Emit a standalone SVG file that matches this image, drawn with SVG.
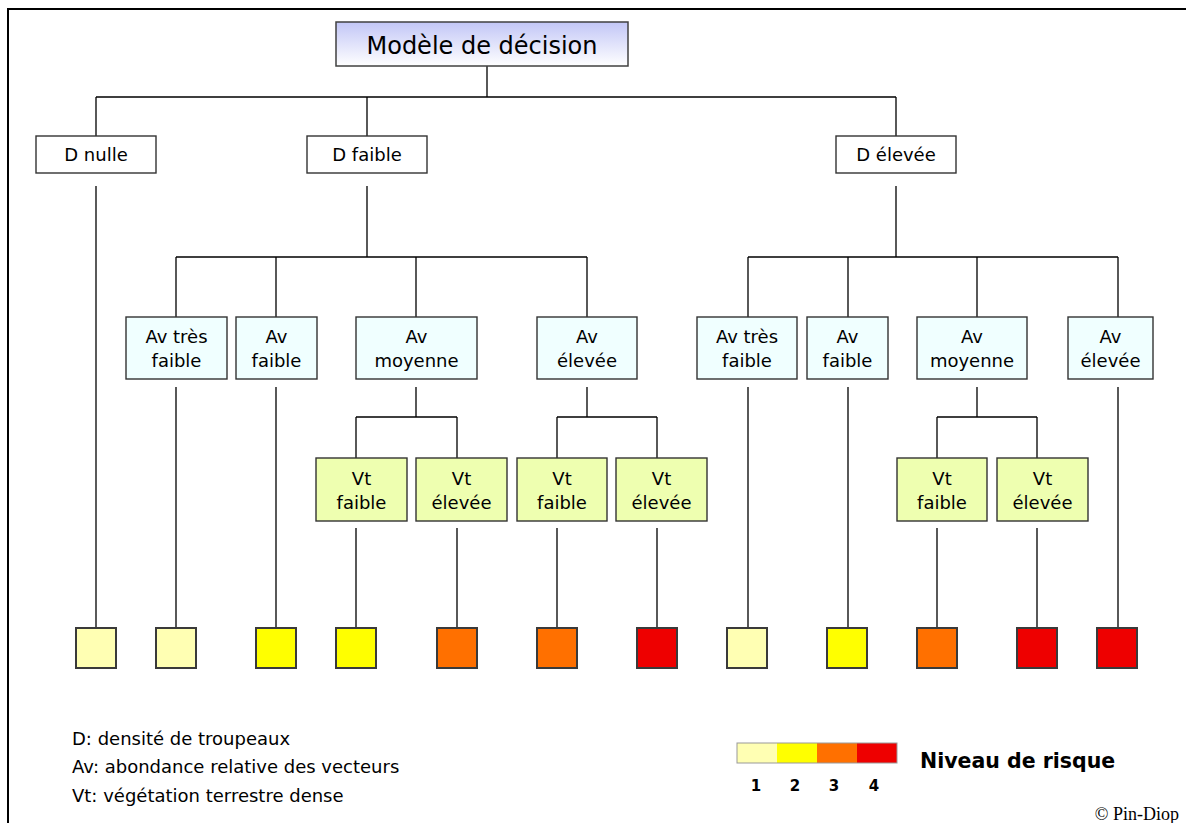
<svg xmlns="http://www.w3.org/2000/svg" width="1186" height="823" viewBox="0 0 1186 823">
<defs>
<linearGradient id="tg" x1="0" y1="0" x2="0" y2="1">
<stop offset="0" stop-color="#c2c6f6"/>
<stop offset="1" stop-color="#ffffff"/>
</linearGradient>
</defs>
<style>
.t{font-family:"DejaVu Sans",Verdana,sans-serif;font-size:18px;fill:#000;text-anchor:middle}
.lg{font-family:"DejaVu Sans",Verdana,sans-serif;font-size:18px;fill:#000}
.b{font-family:"DejaVu Sans",Verdana,sans-serif;font-weight:bold;fill:#000}
.box{stroke:#333;stroke-width:1.4}
.d{fill:#fff}
.av{fill:#f0ffff}
.vt{fill:#eeffb0}
.sq{stroke:#3a3a3a;stroke-width:2}
.c1{fill:#ffffb3}.c2{fill:#ffff00}.c3{fill:#ff7000}.c4{fill:#ee0000}
#connectors path{fill:none;stroke:#000;stroke-width:1.3}
</style>
<rect width="1186" height="823" fill="#fff"/>
<path d="M8,823 V9 H1186" fill="none" stroke="#000" stroke-width="2"/>

<g id="connectors">
<path d="M487,66 V97 M96,97 H896 M96,97 V136 M367,97 V136 M896,97 V136"/>
<path d="M96,186 V628"/>
<path d="M367,186 V257 M176,257 H587 M176,257 V317 M276,257 V317 M416,257 V317 M587,257 V317"/>
<path d="M896,186 V257 M748,257 H1118 M748,257 V317 M848,257 V317 M977,257 V317 M1118,257 V317"/>
<path d="M176,387 V628 M276,387 V628"/>
<path d="M416,387 V417 M356,417 H457 M356,417 V458 M457,417 V458"/>
<path d="M587,387 V417 M557,417 H657 M557,417 V458 M657,417 V458"/>
<path d="M356,528 V628 M457,528 V628 M557,528 V628 M657,528 V628"/>
<path d="M748,387 V628 M848,387 V628 M1118,387 V628"/>
<path d="M977,387 V417 M937,417 H1037 M937,417 V458 M1037,417 V458"/>
<path d="M937,528 V628 M1037,528 V628"/>
</g>

<g id="root">
<rect x="336" y="22" width="292" height="44" fill="url(#tg)" stroke="#404040" stroke-width="1.5"/>
<text class="t" x="482" y="54" style="font-size:24px">Modèle de décision</text>
</g>

<g id="d-nulle"><rect class="box d" x="36" y="136" width="120" height="37"/><text class="t" x="96" y="161">D nulle</text></g>
<g id="d-faible"><rect class="box d" x="307" y="136" width="120" height="37"/><text class="t" x="367" y="161">D faible</text></g>
<g id="d-elevee"><rect class="box d" x="836" y="136" width="120" height="37"/><text class="t" x="896" y="161">D élevée</text></g>

<g id="av-tf-1"><rect class="box av" x="126" y="317" width="101" height="62"/><text class="t" x="176.5" y="343">Av très</text><text class="t" x="176.5" y="367">faible</text></g>
<g id="av-f-1"><rect class="box av" x="236" y="317" width="81" height="62"/><text class="t" x="276.5" y="343">Av</text><text class="t" x="276.5" y="367">faible</text></g>
<g id="av-m-1"><rect class="box av" x="356" y="317" width="121" height="62"/><text class="t" x="416.5" y="343">Av</text><text class="t" x="416.5" y="367">moyenne</text></g>
<g id="av-e-1"><rect class="box av" x="537" y="317" width="100" height="62"/><text class="t" x="587" y="343">Av</text><text class="t" x="587" y="367">élevée</text></g>

<g id="av-tf-2"><rect class="box av" x="697" y="317" width="100" height="62"/><text class="t" x="747" y="343">Av très</text><text class="t" x="747" y="367">faible</text></g>
<g id="av-f-2"><rect class="box av" x="807" y="317" width="81" height="62"/><text class="t" x="847.5" y="343">Av</text><text class="t" x="847.5" y="367">faible</text></g>
<g id="av-m-2"><rect class="box av" x="917" y="317" width="110" height="62"/><text class="t" x="972" y="343">Av</text><text class="t" x="972" y="367">moyenne</text></g>
<g id="av-e-2"><rect class="box av" x="1068" y="317" width="85" height="62"/><text class="t" x="1110.5" y="343">Av</text><text class="t" x="1110.5" y="367">élevée</text></g>

<g id="vt-f-1"><rect class="box vt" x="316" y="458" width="91" height="63"/><text class="t" x="361.5" y="485">Vt</text><text class="t" x="361.5" y="509">faible</text></g>
<g id="vt-e-1"><rect class="box vt" x="416" y="458" width="91" height="63"/><text class="t" x="461.5" y="485">Vt</text><text class="t" x="461.5" y="509">élevée</text></g>
<g id="vt-f-2"><rect class="box vt" x="517" y="458" width="90" height="63"/><text class="t" x="562" y="485">Vt</text><text class="t" x="562" y="509">faible</text></g>
<g id="vt-e-2"><rect class="box vt" x="616" y="458" width="91" height="63"/><text class="t" x="661.5" y="485">Vt</text><text class="t" x="661.5" y="509">élevée</text></g>
<g id="vt-f-3"><rect class="box vt" x="897" y="458" width="90" height="63"/><text class="t" x="942" y="485">Vt</text><text class="t" x="942" y="509">faible</text></g>
<g id="vt-e-3"><rect class="box vt" x="997" y="458" width="91" height="63"/><text class="t" x="1042.5" y="485">Vt</text><text class="t" x="1042.5" y="509">élevée</text></g>

<g id="leaves">
<rect id="leaf1" class="sq c1" x="76" y="628" width="40" height="40"/>
<rect id="leaf2" class="sq c1" x="156" y="628" width="40" height="40"/>
<rect id="leaf3" class="sq c2" x="256" y="628" width="40" height="40"/>
<rect id="leaf4" class="sq c2" x="336" y="628" width="40" height="40"/>
<rect id="leaf5" class="sq c3" x="437" y="628" width="40" height="40"/>
<rect id="leaf6" class="sq c3" x="537" y="628" width="40" height="40"/>
<rect id="leaf7" class="sq c4" x="637" y="628" width="40" height="40"/>
<rect id="leaf8" class="sq c1" x="727" y="628" width="40" height="40"/>
<rect id="leaf9" class="sq c2" x="827" y="628" width="40" height="40"/>
<rect id="leaf10" class="sq c3" x="917" y="628" width="40" height="40"/>
<rect id="leaf11" class="sq c4" x="1017" y="628" width="40" height="40"/>
<rect id="leaf12" class="sq c4" x="1097" y="628" width="40" height="40"/>
</g>

<g id="legend-text">
<text class="lg" x="72" y="745">D: densité de troupeaux</text>
<text class="lg" x="72" y="773">Av: abondance relative des vecteurs</text>
<text class="lg" x="72" y="802">Vt: végétation terrestre dense</text>
</g>

<g id="legend-scale">
<rect class="c1" x="737" y="743" width="40" height="20"/>
<rect class="c2" x="777" y="743" width="40" height="20"/>
<rect class="c3" x="817" y="743" width="40" height="20"/>
<rect class="c4" x="857" y="743" width="40" height="20"/>
<rect x="737" y="743" width="160" height="20" fill="none" stroke="#999" stroke-width="1"/>
<text class="b" x="756" y="791" style="font-size:15px;text-anchor:middle">1</text>
<text class="b" x="795" y="791" style="font-size:15px;text-anchor:middle">2</text>
<text class="b" x="834" y="791" style="font-size:15px;text-anchor:middle">3</text>
<text class="b" x="874" y="791" style="font-size:15px;text-anchor:middle">4</text>
<text class="b" x="920" y="768" style="font-size:20.5px">Niveau de risque</text>
</g>
<text x="1179" y="820" style="font-family:'Liberation Serif','Times New Roman',serif;font-size:18px;text-anchor:end">© Pin-Diop</text>
</svg>
